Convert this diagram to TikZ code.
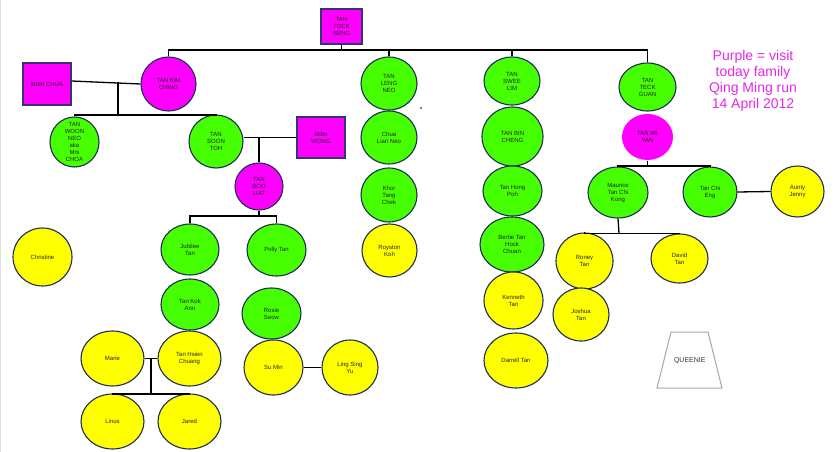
\documentclass[tikz,border=0pt]{standalone}
\usepackage{fontspec}
\setmainfont{Liberation Sans}
\usetikzlibrary{shapes.geometric}

\definecolor{qmGreenFill}{RGB}{70,255,0}
\definecolor{qmYellowFill}{RGB}{255,255,0}
\definecolor{qmPurpleFill}{RGB}{255,0,255}
\definecolor{qmEdge}{RGB}{30,45,85}
\definecolor{qmBoxEdge}{RGB}{55,50,120}
\definecolor{qmNote}{RGB}{230,40,230}

\begin{document}
\begin{tikzpicture}[
    x=1pt, y=-1pt,
    qmPerson/.style={ellipse, draw=qmEdge, line width=1.1pt, inner sep=0pt,
        align=center, text=black!85, font=\fontsize{6}{7}\selectfont},
    qmGreen/.style={qmPerson, fill=qmGreenFill},
    qmYellow/.style={qmPerson, fill=qmYellowFill},
    qmPurple/.style={qmPerson, fill=qmPurpleFill},
    qmBox/.style={rectangle, draw=qmBoxEdge, line width=1.1pt, fill=qmPurpleFill,
        inner sep=0pt, align=center, text=black!85, font=\fontsize{6}{7}\selectfont},
    qmSize/.style 2 args={minimum width=#1pt, minimum height=#2pt},
    qmLink/.style={black, line width=1.3pt}
]
    \useasboundingbox (0,0) rectangle (836,452);
    \fill[white] (0,0) rectangle (836,452);
    \draw[gray!25, line width=1pt] (0.5,0) -- (0.5,452);

    % 第一代
    \node[qmBox, qmSize={41}{35}] (tockseng) at (341.5,26.5) {TAN\\TOCK\\SENG};

    % 第二代
    \node[qmBox, qmSize={48}{42}] (chua) at (47,84) {Mdm CHUA};
    \node[qmPurple, qmSize={55}{54}] (kimching) at (168.5,84) {TAN KIM\\CHING};
    \node[qmGreen, qmSize={56}{53}] (lengneo) at (389,83.5) {TAN\\LENG\\NEO};
    \node[qmGreen, qmSize={56}{48}] (sweelim) at (512,81) {TAN\\SWEE\\LIM};
    \node[qmGreen, qmSize={57}{48}] (teckguan) at (647.5,87) {TAN\\TECK\\GUAN};

    % 第三代
    \node[qmGreen, qmSize={49}{50}, inner ysep=-3pt] (woonneo) at (74.5,142)
        {TAN\\WOON\\NEO\\aka\\Mrs\\CHOA};
    \node[qmGreen, qmSize={54}{53}] (soontoh) at (216,141.5) {TAN\\SOON\\TOH};
    \node[qmBox, qmSize={48}{41}] (wong) at (321,137.5) {Mdm\\WONG};
    \node[qmGreen, qmSize={56}{53}] (lianneo) at (389,137.5) {Chua\\Lian Neo};
    \node[qmGreen, qmSize={61}{59}] (bincheng) at (512.5,136.5) {TAN BIN\\CHENG};
    \node[qmPurple, draw=none, qmSize={51}{46}] (wiyan) at (647.5,137) {TAN WI\\YAN};

    % 第四代
    \node[qmPurple, qmSize={48}{47}] (bookliat) at (259,186.5) {TAN\\BOO\\LIAT};
    \node[qmGreen, qmSize={56}{54}] (tangchek) at (389,195) {Khor\\Tang\\Chek};
    \node[qmGreen, qmSize={59}{50}] (hongpoh) at (512.5,191) {Tan Hong\\Poh};
    \node[qmGreen, qmSize={60}{51}] (maurice) at (618,192.5) {Maurice\\Tan Chi\\Kong};
    \node[qmGreen, qmSize={54}{50}] (chieng) at (710,192) {Tan Chi\\Eng};
    \node[qmYellow, qmSize={53}{51}] (jenny) at (797.5,191.5) {Aunty\\Jenny};

    % 第五代
    \node[qmYellow, qmSize={59}{58}] (christine) at (42.5,257) {Christine};
    \node[qmGreen, qmSize={58}{51}] (jubilee) at (190,249.5) {Jubilee\\Tan};
    \node[qmGreen, qmSize={59}{52}] (polly) at (276.5,250) {Polly Tan};
    \node[qmYellow, qmSize={55}{53}] (royston) at (389.5,250.5) {Royston\\Koh};
    \node[qmGreen, qmSize={64}{55}] (bertie) at (512,244.5) {Bertie Tan\\Hock\\Chuan};
    \node[qmYellow, qmSize={57}{56}] (roney) at (584.5,261) {Roney\\Tan};
    \node[qmYellow, qmSize={57}{49}] (david) at (679.5,258.5) {David\\Tan};
    \node[qmGreen, qmSize={58}{51}] (kokann) at (190,304.5) {Tan Kok\\Ann};
    \node[qmYellow, qmSize={59}{57}] (kenneth) at (513.5,300.5) {Kenneth\\Tan};
    \node[qmYellow, qmSize={56}{53}] (joshua) at (581,314.5) {Joshua\\Tan};
    \node[qmGreen, qmSize={59}{51}] (rosie) at (271.5,313.5) {Rosie\\Seow};

    % 第六代
    \node[qmYellow, qmSize={63}{55}] (marie) at (112.5,358.5) {Marie};
    \node[qmYellow, qmSize={63}{55}] (hsien) at (189.5,358.5) {Tan Hsien\\Chuang};
    \node[qmYellow, qmSize={59}{55}] (sumin) at (273.5,367.5) {Su Min};
    \node[qmYellow, qmSize={56}{55}] (ling) at (350,367.5) {Ling Sing\\Yu};
    \node[qmYellow, qmSize={64}{55}] (darrell) at (516,360.5) {Darrell Tan};
    \node[qmYellow, qmSize={63}{55}] (linus) at (112.5,421.5) {Linus};
    \node[qmYellow, qmSize={63}{55}] (jared) at (189.5,421.5) {Jared};

    \node[trapezium, trapezium left angle=76, trapezium right angle=76,
        draw=gray!70, line width=1pt, fill=white,
        text width=31pt, align=center, text height=5pt, text depth=0pt,
        inner xsep=3pt, inner ysep=25.5pt, text=black!80,
        font=\fontsize{7}{8}\selectfont] (queenie) at (689.5,360) {QUEENIE};

    % 说明
    \node[qmNote, align=center, font=\fontsize{14}{16}\selectfont] (note) at (753,81)
        {Purple = visit\\today family\\Qing Ming run\\14 April 2012};
    \fill (421,108) circle (0.8);

    % 连线
    \coordinate (topbar) at (341.5,50);
    \draw[qmLink] (tockseng.south) -- (topbar);
    \draw[qmLink] (kimching.north) |- (topbar) -| (teckguan.north);
    \draw[qmLink] (lengneo.north) -- (lengneo.north |- topbar);
    \draw[qmLink] (sweelim.north) -- (sweelim.north |- topbar);

    \coordinate (chuawed) at (118,82.5);
    \coordinate (chuabar) at (118,115);
    \draw[qmLink] ([yshift=3pt]chua.east) -- (kimching.west);
    \draw[qmLink] (chuawed) -- (chuabar);
    \draw[qmLink] (woonneo.north) |- (chuabar) -| (soontoh.north);

    \coordinate (liatbar) at (259,216);
    \draw[qmLink] (soontoh.east |- wong) -- (wong.west);
    \draw[qmLink] (bookliat.north) -- (bookliat.north |- wong);
    \draw[qmLink] (bookliat.south) -- (liatbar);
    \draw[qmLink] (jubilee.north) |- (liatbar) -| (polly.north);

    \coordinate (wiyanbar) at (647.5,166);
    \draw[qmLink] (wiyan.south) -- (wiyanbar);
    \draw[qmLink] (maurice.north) |- (wiyanbar) -| (chieng.north);
    \draw[qmLink] (chieng.east) -- (jenny.west);

    \coordinate (mauricebar) at (619,233.5);
    \draw[qmLink] (maurice.south) -- (mauricebar);
    \draw[qmLink] (roney.north) |- (mauricebar) -| (david.north);

    \coordinate (hsienwed) at (151,358.5);
    \coordinate (hsienbar) at (151,394);
    \draw[qmLink] (marie.east) -- (hsien.west);
    \draw[qmLink] (hsienwed) -- (hsienbar);
    \draw[qmLink] (linus.north) |- (hsienbar) -| (jared.north);

    \draw[qmLink] (sumin.east) -- (ling.west);
\end{tikzpicture}
\end{document}
